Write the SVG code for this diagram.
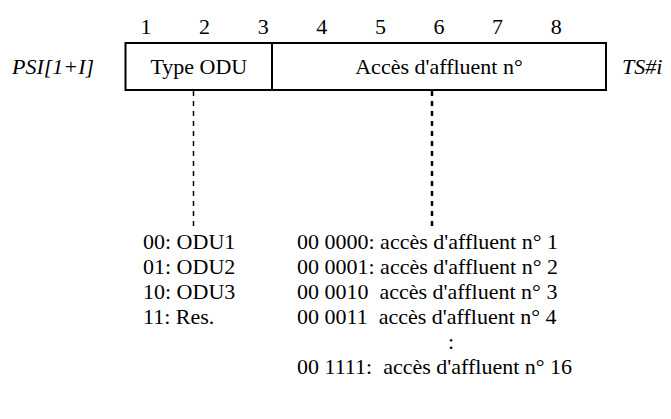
<svg xmlns="http://www.w3.org/2000/svg" width="671" height="419" viewBox="0 0 671 419">
<style>
text{font-family:"Liberation Serif","Times New Roman",Tinos,serif;font-size:22px;fill:#000}
.it{font-style:italic}
.num{text-anchor:middle}
.mid{text-anchor:middle}
.box{fill:#fff;stroke:#000;stroke-width:2}
.dash{stroke:#000;fill:none;stroke-dasharray:5 5}
</style>
<rect width="671" height="419" fill="#fff"/>
<g id="bitnumbers">
<text class="num" x="146" y="34">1</text>
<text class="num" x="204.6" y="34">2</text>
<text class="num" x="263.2" y="34">3</text>
<text class="num" x="321.8" y="34">4</text>
<text class="num" x="380.4" y="34">5</text>
<text class="num" x="439" y="34">6</text>
<text class="num" x="497.6" y="34">7</text>
<text class="num" x="556.2" y="34">8</text>
</g>
<text id="psi" class="it" x="12" y="74">PSI[1+I]</text>
<text id="ts" class="it" x="622" y="74">TS#i</text>
<g id="typeodu">
<rect class="box" x="125.5" y="43" width="146.5" height="47"/>
<text class="mid" x="198.8" y="74">Type ODU</text>
</g>
<g id="acces">
<rect class="box" x="272" y="43" width="334" height="47"/>
<text class="mid" x="439" y="74">Accès d'affluent n°</text>
</g>
<g id="connectors">
<line class="dash" x1="193.5" y1="91" x2="193.5" y2="226" stroke-width="1.5"/>
<line class="dash" x1="432" y1="91" x2="432" y2="226" stroke-width="2.5"/>
</g>
<g id="odutypes">
<text x="143" y="249">00: ODU1</text>
<text x="143" y="274">01: ODU2</text>
<text x="143" y="299">10: ODU3</text>
<text x="143" y="324">11: Res.</text>
</g>
<g id="accesslist">
<text x="297" y="249">00 0000: accès d'affluent n° 1</text>
<text x="297" y="274">00 0001: accès d'affluent n° 2</text>
<text x="297" y="299" xml:space="preserve">00 0010  accès d'affluent n° 3</text>
<text x="297" y="324" xml:space="preserve">00 0011  accès d'affluent n° 4</text>
<text x="448" y="349">:</text>
<text x="297" y="374" xml:space="preserve">00 1111:  accès d'affluent n° 16</text>
</g>
</svg>
